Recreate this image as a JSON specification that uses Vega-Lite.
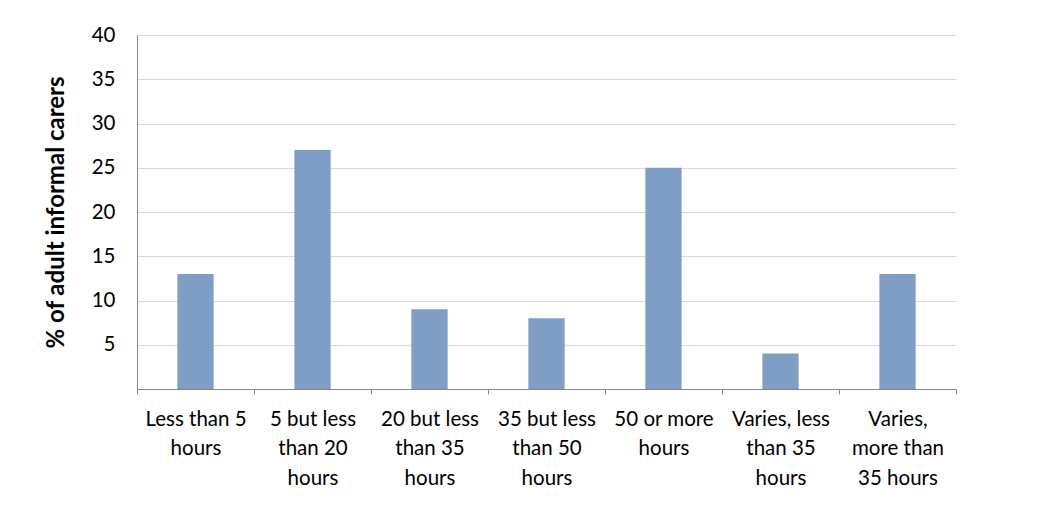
{
  "$schema": "https://vega.github.io/schema/vega-lite/v6.json",
  "autosize": "none",
  "width": 819,
  "height": 354,
  "padding": {"left": 137, "top": 35, "right": 108, "bottom": 131},
  "background": "white",
  "data": {
    "values": [
      {"category": "Less than 5\nhours", "percent": 13},
      {"category": "5 but less\nthan 20\nhours", "percent": 27},
      {"category": "20 but less\nthan 35\nhours", "percent": 9},
      {"category": "35 but less\nthan 50\nhours", "percent": 8},
      {"category": "50 or more\nhours", "percent": 25},
      {"category": "Varies, less\nthan 35\nhours", "percent": 4},
      {"category": "Varies,\nmore than\n35 hours", "percent": 13}
    ]
  },
  "mark": {"type": "bar", "color": "#7e9ec6", "width": {"band": 0.31}},
  "encoding": {
    "x": {
      "field": "category",
      "type": "nominal",
      "sort": null,
      "scale": {"paddingInner": 0, "paddingOuter": 0},
      "axis": {
        "title": null,
        "labelAngle": 0,
        "labelExpr": "split(datum.label, '\\n')",
        "labelFont": "Lato",
        "labelFontSize": 20.5,
        "labelLineHeight": 29.5,
        "labelColor": "#000000",
        "labelPadding": 15,
        "labelLimit": 200,
        "tickBand": "extent",
        "tickSize": 5,
        "tickColor": "#868686",
        "domainColor": "#868686",
        "grid": false
      }
    },
    "y": {
      "field": "percent",
      "type": "quantitative",
      "scale": {"domain": [0, 40], "nice": false},
      "axis": {
        "title": "% of adult informal carers",
        "titleFont": "Lato",
        "titleFontSize": 24,
        "titleFontWeight": "bold",
        "titleColor": "#000000",
        "titlePadding": 23,
        "values": [5, 10, 15, 20, 25, 30, 35, 40],
        "labelFont": "Lato",
        "labelFontSize": 20.5,
        "labelColor": "#000000",
        "labelPadding": 22,
        "ticks": false,
        "domainColor": "#868686",
        "gridColor": "#d9d9d9",
        "grid": true
      }
    }
  },
  "config": {"view": {"stroke": null}}
}
